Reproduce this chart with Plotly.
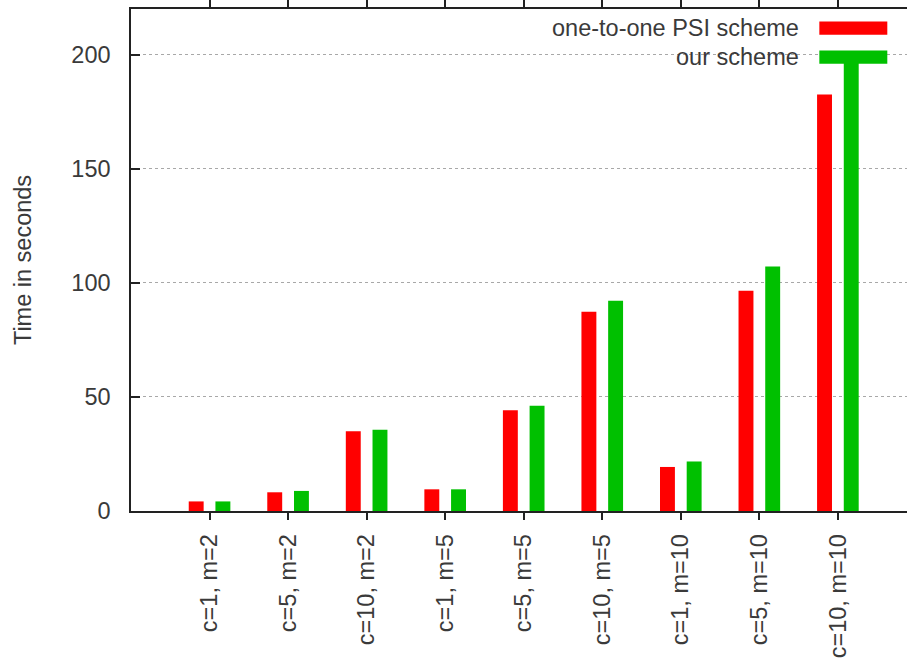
import plotly.graph_objects as go

categories = ["c=1, m=2", "c=5, m=2", "c=10, m=2", "c=1, m=5", "c=5, m=5",
              "c=10, m=5", "c=1, m=10", "c=5, m=10", "c=10, m=10"]
psi_values = [4.2, 8.2, 34.9, 9.5, 44.1, 87.3, 19.3, 96.5, 182.5]
our_values = [4.2, 8.8, 35.6, 9.5, 46.1, 92.1, 21.7, 107.2, 199.0]
series_names = ["one-to-one PSI scheme", "our scheme"]
y_ticks = [0, 50, 100, 150, 200]

RED = "#ff0000"
GREEN = "#00c000"
TXT = "#3a3a3a"
FONT = "Liberation Sans"
FS = 23.5

xs = list(range(len(categories)))

fig = go.Figure()
fig.add_trace(go.Bar(x=xs, y=psi_values, name=series_names[0], width=0.19, offset=-0.265,
                     marker=dict(color=RED, line=dict(width=0)), showlegend=False))
fig.add_trace(go.Bar(x=xs, y=our_values, name=series_names[1], width=0.19, offset=0.075,
                     marker=dict(color=GREEN, line=dict(width=0)), showlegend=False))

L, R, T, B = 130.7, 907.0, 8.5, 510.7
W, H = R - L, B - T

def px(x):
    return (x - L) / W

def py(y):
    return (B - y) / H

# key box hiding the grid line behind it
fig.add_shape(type="rect", xref="paper", yref="paper", x0=px(492), x1=px(895), y0=py(72), y1=py(10),
              fillcolor="white", line=dict(width=0), layer="between")
# key samples
fig.add_shape(type="rect", xref="paper", yref="paper", x0=px(819.3), x1=px(887.3), y0=py(34.3), y1=py(21),
              fillcolor=RED, line=dict(width=0), layer="above")
fig.add_shape(type="rect", xref="paper", yref="paper", x0=px(819.3), x1=px(887.3), y0=py(63.3), y1=py(50),
              fillcolor=GREEN, line=dict(width=0), layer="above")
fig.add_annotation(text=series_names[0], xref="paper", yref="paper", x=px(801), y=py(27.5),
                   xanchor="right", yanchor="middle", showarrow=False, font=dict(size=FS, color=TXT, family=FONT))
fig.add_annotation(text=series_names[1], xref="paper", yref="paper", x=px(801), y=py(56.7),
                   xanchor="right", yanchor="middle", showarrow=False, font=dict(size=FS, color=TXT, family=FONT))

fig.update_layout(
    width=907, height=665,
    margin=dict(l=L, r=0, t=T, b=665 - B, pad=0, autoexpand=False),
    plot_bgcolor="white", paper_bgcolor="white",
    barmode="overlay",
    font=dict(family=FONT, size=FS, color=TXT),
)
fig.update_xaxes(
    range=[-1, 8.88], tickmode="array", tickvals=xs, ticktext=categories,
    tickangle=-90, ticks="outside", ticklen=7, tickwidth=1.5, tickcolor="#222",
    showline=True, linecolor="#222", linewidth=1.5, mirror="ticks",
    showgrid=False, zeroline=False, ticklabelstandoff=5, automargin=False,
    tickfont=dict(size=FS, color=TXT, family=FONT),
)
fig.update_yaxes(
    range=[0, 220], tickmode="array", tickvals=y_ticks,
    ticks="inside", ticklen=9, tickwidth=1.5, tickcolor="#222",
    showline=True, linecolor="#222", linewidth=1.5,
    showgrid=True, gridcolor="#a8a8a8", gridwidth=1, griddash="3px,3px",
    zeroline=False, ticklabelstandoff=14, automargin=False,
    title=dict(text="Time in seconds", standoff=33, font=dict(size=FS, color=TXT, family=FONT)),
    tickfont=dict(size=FS, color=TXT, family=FONT),
)

fig.write_html("out.html", config={"displayModeBar": False},
               post_script="document.body.style.margin='0';document.body.style.overflow='hidden';")
